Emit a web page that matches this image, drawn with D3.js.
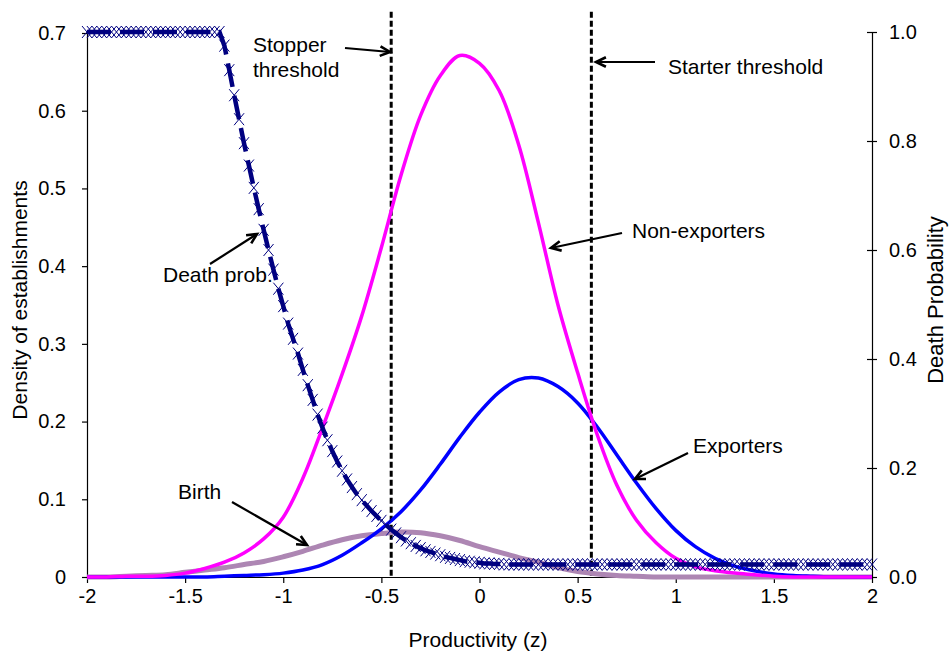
<!DOCTYPE html>
<html><head><meta charset="utf-8">
<script src="https://cdn.jsdelivr.net/npm/d3@7"></script>
<style>body{margin:0;background:#fff} text{font-family:"Liberation Sans",Arial,sans-serif;fill:#000}</style>
</head><body><svg id="c" width="951" height="655"></svg>
<script>
const zGrid = [-2,-1.9,-1.8,-1.7,-1.6,-1.5,-1.4,-1.3,-1.2,-1.1,-1,-0.9,-0.8,-0.7,-0.6,-0.5,-0.4,-0.3,-0.2,-0.1,0,
  0.1,0.2,0.3,0.4,0.5,0.6,0.7,0.8,0.9,1,1.1,1.2,1.3,1.4,1.5,1.6,1.7,1.8,1.9,2];
const nonExporters = [0,0,0.001,0.001,0.002,0.005,0.011,0.019,0.031,0.049,0.077,0.127,0.192,0.261,0.336,0.424,0.517,0.594,0.645,0.671,0.661,
  0.626,0.556,0.456,0.350,0.263,0.183,0.118,0.073,0.044,0.024,0.013,0.008,0.005,0.003,0.001,0,0,0,0,0];
const exporters = [0,0,0,0,0,0,0,0.001,0.002,0.003,0.005,0.009,0.016,0.028,0.044,0.062,0.084,0.112,0.145,0.180,0.212,
  0.238,0.254,0.256,0.245,0.224,0.193,0.157,0.121,0.088,0.060,0.039,0.024,0.014,0.008,0.004,0.002,0.001,0,0,0];
const birth = [0,0,0.001,0.002,0.003,0.006,0.009,0.012,0.016,0.020,0.026,0.033,0.041,0.048,0.053,0.056,0.058,0.057,0.053,0.047,0.039,
  0.032,0.025,0.019,0.012,0.007,0.004,0.002,0.001,0,0,0,0,0,0,0,0,0,0,0,0];
const deathZ = [
 -2.000,-1.975,-1.950,-1.925,-1.900,-1.875,-1.850,-1.825,-1.800,-1.775,
 -1.750,-1.725,-1.700,-1.675,-1.650,-1.625,-1.600,-1.575,-1.550,-1.525,
 -1.500,-1.475,-1.450,-1.425,-1.400,-1.375,-1.350,-1.325,-1.300,-1.275,
 -1.250,-1.225,-1.200,-1.175,-1.150,-1.125,-1.100,-1.075,-1.050,-1.025,
 -1.000,-0.975,-0.950,-0.925,-0.900,-0.875,-0.850,-0.825,-0.800,-0.775,
 -0.750,-0.725,-0.700,-0.675,-0.650,-0.625,-0.600,-0.575,-0.550,-0.525,
 -0.500,-0.475,-0.450,-0.425,-0.400,-0.375,-0.350,-0.325,-0.300,-0.275,
 -0.250,-0.225,-0.200,-0.175,-0.150,-0.125,-0.100,-0.075,-0.050,-0.025,
 0.000,0.025,0.050,0.075,0.100,0.125,0.150,0.175,0.200,0.225,
 0.250,0.275,0.300,0.325,0.350,0.375,0.400,0.425,0.450,0.475,
 0.500,0.525,0.550,0.575,0.600,0.625,0.650,0.675,0.700,0.725,
 0.750,0.775,0.800,0.825,0.850,0.875,0.900,0.925,0.950,0.975,
 1.000,1.025,1.050,1.075,1.100,1.125,1.150,1.175,1.200,1.225,
 1.250,1.275,1.300,1.325,1.350,1.375,1.400,1.425,1.450,1.475,
 1.500,1.525,1.550,1.575,1.600,1.625,1.650,1.675,1.700,1.725,
 1.750,1.775,1.800,1.825,1.850,1.875,1.900,1.925,1.950,1.975,
 2.000];
const deathProb = [
 1,1,1,1,1,1,1,1,1,1,
 1,1,1,1,1,1,1,1,1,1,
 1,1,1,1,1,1,1,1,0.975,0.930,
 0.884,0.840,0.796,0.755,0.714,0.675,0.637,0.600,0.564,0.529,
 0.497,0.465,0.437,0.410,0.380,0.352,0.325,0.298,0.274,0.251,
 0.231,0.212,0.195,0.179,0.165,0.152,0.141,0.131,0.121,0.112,
 0.103,0.095,0.087,0.080,0.073,0.067,0.062,0.057,0.053,0.049,
 0.046,0.043,0.040,0.037,0.035,0.033,0.031,0.029,0.028,0.027,
 0.026,0.025,0.025,0.024,0.024,0.023,0.023,0.023,0.023,0.023,
 0.023,0.023,0.023,0.023,0.023,0.023,0.023,0.023,0.023,0.023,
 0.023,0.023,0.023,0.023,0.023,0.023,0.023,0.023,0.023,0.023,
 0.023,0.023,0.023,0.023,0.023,0.023,0.023,0.023,0.023,0.023,
 0.023,0.023,0.023,0.023,0.023,0.023,0.023,0.023,0.023,0.023,
 0.023,0.023,0.023,0.023,0.023,0.023,0.023,0.023,0.023,0.023,
 0.023,0.023,0.023,0.023,0.023,0.023,0.023,0.023,0.023,0.023,
 0.023,0.023,0.023,0.023,0.023,0.023,0.023,0.023,0.023,0.023,
 0.023];
const thresholds = [-0.45, 0.57];
const xTicks = [-2,-1.5,-1,-0.5,0,0.5,1,1.5,2];
const leftTicks = [0,0.1,0.2,0.3,0.4,0.5,0.6,0.7];
const rightTicks = [0,0.2,0.4,0.6,0.8,1.0];

const svg = d3.select("#c");
const x = d3.scaleLinear().domain([-2,2]).range([87,872]);
const yL = d3.scaleLinear().domain([0,0.7]).range([577,33]);
const yR = d3.scaleLinear().domain([0,1]).range([577,32]);
const FS = 21, TS = 20;

// axes
const gx = svg.append("g").attr("transform","translate(0,577)")
  .call(d3.axisBottom(x).tickValues(xTicks).tickSize(6).tickSizeOuter(0).tickFormat(d=>String(d)));
gx.selectAll("text").attr("y",12).attr("dy","0.71em").style("font-size",TS+"px");
const gl = svg.append("g").attr("transform","translate(87,0)")
  .call(d3.axisLeft(yL).tickValues(leftTicks).tickSize(5).tickSizeOuter(0).tickFormat(d=>String(d)));
gl.selectAll("text").attr("x",-21).style("font-size",TS+"px");
const gr = svg.append("g").attr("transform","translate(872,0)")
  .call(d3.axisRight(yR).tickValues(rightTicks).tickSize(5).tickSizeOuter(0).tickFormat(d=>d.toFixed(1)));
gr.selectAll(".tick line").attr("x1",-5);
gr.selectAll("text").attr("x",17).style("font-size",TS+"px");
svg.selectAll(".domain").attr("stroke","#000").attr("stroke-width",1.2);
svg.selectAll(".tick line").attr("stroke","#000").attr("stroke-width",1.2);
svg.selectAll(".tick text").attr("fill","#000");

// titles
svg.append("text").attr("x",478).attr("y",647).attr("text-anchor","middle").style("font-size",FS+"px").text("Productivity (z)");
svg.append("text").attr("transform","translate(27,300) rotate(-90)").attr("text-anchor","middle").style("font-size",FS+"px").text("Density of establishments");
svg.append("text").attr("transform","translate(943,300) rotate(-90)").attr("text-anchor","middle").style("font-size","22px").text("Death Probability");

// thresholds
svg.selectAll(".thr").data(thresholds).enter().append("line")
  .attr("x1",d=>x(d)).attr("x2",d=>x(d)).attr("y1",yR(1.037)).attr("y2",yR(0))
  .attr("stroke","#000").attr("stroke-width",3).attr("stroke-dasharray","6 3");

// series
const line = d3.line().x(d=>x(d[0])).y(d=>yL(d[1])).curve(d3.curveCatmullRom.alpha(0.5));
const pairs = arr => zGrid.map((z,i)=>[z,arr[i]]);
svg.append("path").attr("d",line(pairs(birth))).attr("fill","none").attr("stroke","#AD86B3").attr("stroke-width",5);
svg.append("path").attr("d",line(pairs(exporters))).attr("fill","none").attr("stroke","#0000FF").attr("stroke-width",3.5);
svg.append("path").attr("d",line(pairs(nonExporters))).attr("fill","none").attr("stroke","#FF00FF").attr("stroke-width",3.5);

const dpts = deathZ.map((z,i)=>[z,deathProb[i]]);
const dline = d3.line().x(d=>x(d[0])).y(d=>yR(d[1]));
svg.append("path").attr("d",dline(dpts)).attr("fill","none").attr("stroke","#000080").attr("stroke-width",4.5).attr("stroke-dasharray","24 9");
svg.append("g").selectAll("path").data(dpts).enter().append("path")
  .attr("d",d=>{const cx=x(d[0]),cy=yR(d[1]),sx=5,sy=6;return `M${cx-sx},${cy-sy}L${cx+sx},${cy+sy}M${cx-sx},${cy+sy}L${cx+sx},${cy-sy}`;})
  .attr("stroke","#000080").attr("stroke-width",1).attr("fill","none");

// annotations
const notes = [
  {lines:["Stopper","threshold"], x:253, y:52, anchor:"start"},
  {lines:["Starter threshold"], x:668, y:74, anchor:"start"},
  {lines:["Non-exporters"], x:632, y:238, anchor:"start"},
  {lines:["Exporters"], x:693, y:453, anchor:"start"},
  {lines:["Death prob."], x:163, y:282, anchor:"start"},
  {lines:["Birth"], x:178, y:499, anchor:"start"}
];
notes.forEach(n=>{
  const t = svg.append("text").attr("x",n.x).attr("y",n.y).attr("text-anchor",n.anchor).style("font-size",FS+"px");
  n.lines.forEach((l,i)=>t.append("tspan").attr("x",n.x).attr("dy",i?25:0).text(l));
});
const arrows = [[345,48,390,52],[655,62,596,62],[622,233,551,248],[210,264,257,234],[688,453,635,479],[232,502,307,545]];
arrows.forEach(([x1,y1,x2,y2])=>{
  svg.append("line").attr("x1",x1).attr("y1",y1).attr("x2",x2).attr("y2",y2).attr("stroke","#000").attr("stroke-width",2.2);
  const a = Math.atan2(y2-y1,x2-x1), L=11, w=0.45;
  const p1=[x2-L*Math.cos(a-w), y2-L*Math.sin(a-w)], p2=[x2-L*Math.cos(a+w), y2-L*Math.sin(a+w)];
  svg.append("path").attr("d",`M${p1}L${x2},${y2}L${p2}`).attr("fill","none").attr("stroke","#000").attr("stroke-width",2.6);
});
</script></body></html>
